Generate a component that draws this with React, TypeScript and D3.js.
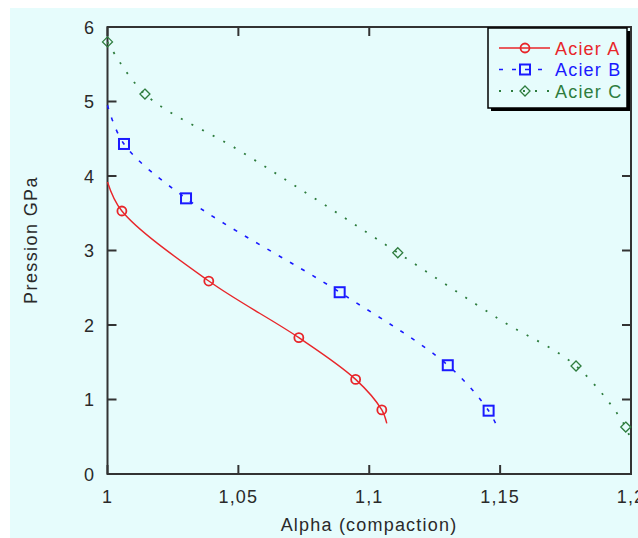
import React from "react";
import * as d3 from "d3";

const xTicks = [1, 1.05, 1.1, 1.15, 1.2];
const xTickLabels = ["1", "1,05", "1,1", "1,15", "1,2"];
const yTicks = [0, 1, 2, 3, 4, 5, 6];

const seriesNames = ["Acier A", "Acier B", "Acier C"];
const seriesColors = ["#e8262a", "#1a1aff", "#2e7d3e"];

// marker points
const aX = [1.0055, 1.0387, 1.0731, 1.0948, 1.1048];
const aY = [3.53, 2.59, 1.83, 1.27, 0.86];
const bX = [1.0063, 1.03, 1.0887, 1.13, 1.1456];
const bY = [4.43, 3.7, 2.44, 1.46, 0.85];
const cX = [1.0, 1.0143, 1.1109, 1.179, 1.198];
const cY = [5.8, 5.1, 2.97, 1.45, 0.63];

// fitted curve points
const aCurveX = [1.0, 1.0055, 1.0387, 1.0731, 1.0948, 1.1048, 1.1067];
const aCurveY = [3.92, 3.53, 2.59, 1.83, 1.27, 0.86, 0.68];
const bCurveX = [1.0, 1.0063, 1.03, 1.0887, 1.13, 1.1456, 1.149];
const bCurveY = [4.95, 4.43, 3.7, 2.44, 1.46, 0.85, 0.62];
const cCurveX = [1.0, 1.0143, 1.05, 1.08, 1.1109, 1.15, 1.179, 1.198, 1.2];
const cCurveY = [5.8, 5.1, 4.35, 3.68, 2.97, 2.07, 1.45, 0.63, 0.42];

const BG = "#e6fcfc";
const FONT = "'Liberation Sans', Arial, sans-serif";
const TEXT = "#2a2a2a";

export default function App() {
  const x = d3.scaleLinear().domain([1, 1.2]).range([107.5, 631]);
  const y = d3.scaleLinear().domain([0, 6]).range([474, 27]);
  const line = d3
    .line<[number, number]>()
    .x((d) => x(d[0]))
    .y((d) => y(d[1]))
    .curve(d3.curveCatmullRom.alpha(0.5));

  const curves = [
    d3.zip(aCurveX, aCurveY) as [number, number][],
    d3.zip(bCurveX, bCurveY) as [number, number][],
    d3.zip(cCurveX, cCurveY) as [number, number][],
  ];
  const marks = [
    d3.zip(aX, aY) as [number, number][],
    d3.zip(bX, bY) as [number, number][],
    d3.zip(cX, cY) as [number, number][],
  ];
  const dashes = [undefined, "4,9", "2,10"];
  const widths = [1.4, 1.6, 1.8];

  const marker = (i: number, cx: number, cy: number, key: string) => {
    const c = seriesColors[i];
    if (i === 0)
      return <circle key={key} cx={cx} cy={cy} r={4.5} fill="none" stroke={c} strokeWidth={1.8} />;
    if (i === 1)
      return <rect key={key} x={cx - 5} y={cy - 5} width={10} height={10} fill="none" stroke={c} strokeWidth={2} />;
    return (
      <path key={key} d={`M${cx},${cy - 5}L${cx + 5},${cy}L${cx},${cy + 5}L${cx - 5},${cy}Z`} fill="none" stroke={c} strokeWidth={1.3} />
    );
  };

  const [x0, x1] = x.range();
  const [y0, y1] = y.range();
  const tick = 9;
  const axisColor = "#333";

  return (
    <svg width={638} height={538} style={{ position: "absolute", left: 0, top: 0 }} fontFamily={FONT}>
      <rect x={0} y={0} width={638} height={538} fill="#fff" />
      <rect x={10} y={8} width={628} height={530} fill={BG} />
      {/* frame */}
      <rect x={x0} y={y1} width={x1 - x0} height={y0 - y1} fill="none" stroke={axisColor} strokeWidth={2} />
      {xTicks.map((t, i) => (
        <g key={"xt" + i}>
          <line x1={x(t)} x2={x(t)} y1={y0} y2={y0 - tick} stroke={axisColor} strokeWidth={2} />
          <line x1={x(t)} x2={x(t)} y1={y1} y2={y1 + tick} stroke={axisColor} strokeWidth={2} />
          <text x={x(t)} y={503} textAnchor="middle" fontSize={18} letterSpacing={1.2} fill={TEXT}>
            {xTickLabels[i]}
          </text>
        </g>
      ))}
      {yTicks.map((t, i) => (
        <g key={"yt" + i}>
          <line x1={x0} x2={x0 + tick} y1={y(t)} y2={y(t)} stroke={axisColor} strokeWidth={2} />
          <line x1={x1} x2={x1 - tick} y1={y(t)} y2={y(t)} stroke={axisColor} strokeWidth={2} />
          <text x={94} y={y(t) + 6.5} textAnchor="end" fontSize={18} fill={TEXT}>
            {t}
          </text>
        </g>
      ))}
      <text x={369} y={531} textAnchor="middle" fontSize={18} letterSpacing={1.2} fill={TEXT}>
        Alpha (compaction)
      </text>
      <text transform="translate(37,240) rotate(-90)" textAnchor="middle" fontSize={18} letterSpacing={1.4} fill={TEXT}>
        Pression GPa
      </text>
      {marks.map((m, i) => m.map((p, j) => marker(i, x(p[0]), y(p[1]), `m${i}-${j}`)))}
      {curves.map((c, i) => (
        <path key={"c" + i} d={line(c) || ""} fill="none" stroke={seriesColors[i]} strokeWidth={widths[i]} strokeDasharray={dashes[i]} />
      ))}
      {/* legend */}
      <rect x={491} y={31} width={139} height={80} fill="#000" />
      <rect x={488} y={28} width={139} height={80} fill={BG} stroke="#000" strokeWidth={1.5} />
      {seriesNames.map((n, i) => {
        const ly = 48 + i * 21.5;
        return (
          <g key={"lg" + i}>
            {marker(i, 525, ly, "lm" + i)}
            <line x1={499} x2={550} y1={ly} y2={ly} stroke={seriesColors[i]} strokeWidth={widths[i]} strokeDasharray={dashes[i]} />
            <text x={555} y={ly + 6.5} fontSize={18} letterSpacing={1.2} fill={seriesColors[i]}>
              {n}
            </text>
          </g>
        );
      })}
    </svg>
  );
}
